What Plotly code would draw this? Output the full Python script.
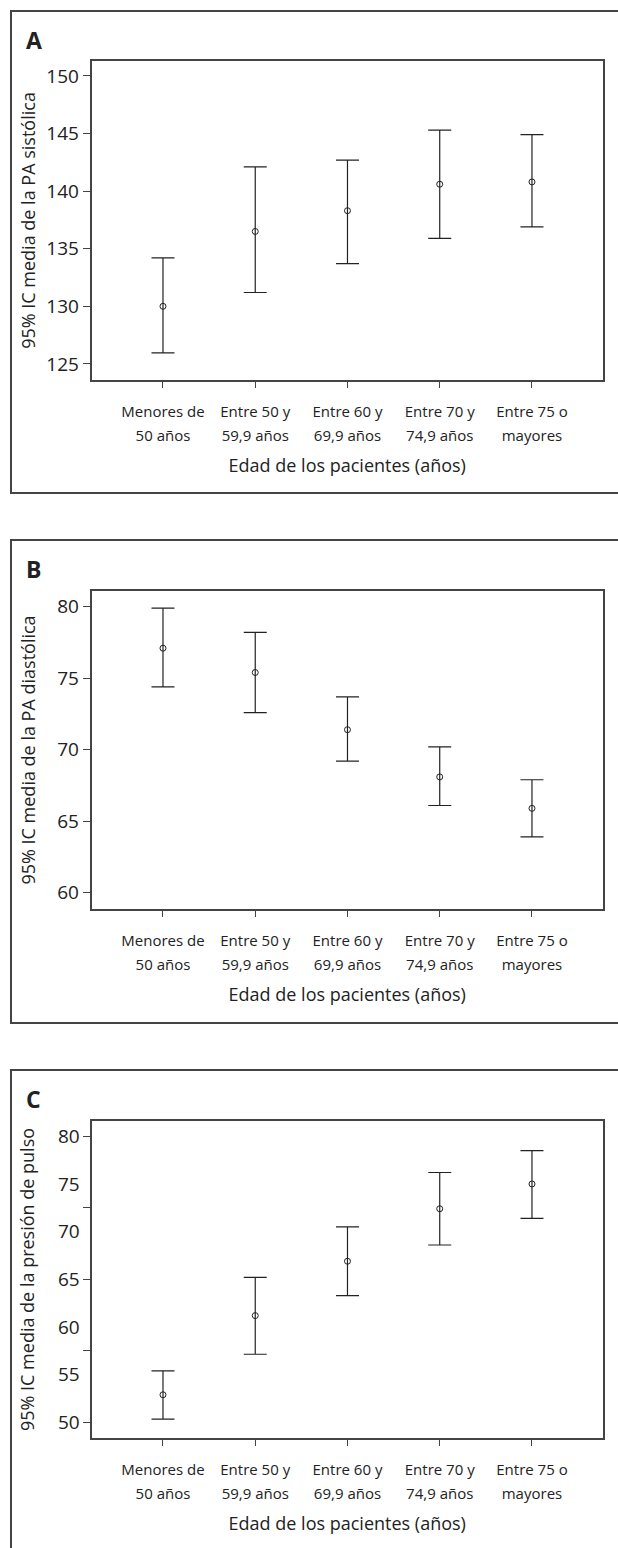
import plotly.graph_objects as go

# ---------------- data ----------------
category_lines = [["Menores de", "50 años"], ["Entre 50 y", "59,9 años"], ["Entre 60 y", "69,9 años"],
                  ["Entre 70 y", "74,9 años"], ["Entre 75 o", "mayores"]]
categories = [" ".join(c) for c in category_lines]

sys_mean = [130.0, 136.5, 138.3, 140.6, 140.8]
sys_upper = [134.2, 142.1, 142.7, 145.3, 144.9]
sys_lower = [125.95, 131.2, 133.7, 135.9, 136.9]

dia_mean = [77.1, 75.4, 71.4, 68.1, 65.9]
dia_upper = [79.9, 78.2, 73.7, 70.2, 67.9]
dia_lower = [74.4, 72.6, 69.2, 66.1, 63.9]

pp_mean = [52.9, 61.2, 66.9, 72.4, 75.0]
pp_upper = [55.4, 65.2, 70.5, 76.2, 78.5]
pp_lower = [50.35, 57.15, 63.3, 68.6, 71.4]

panel_letters = ["A", "B", "C"]
y_titles = ["95% IC media de la PA sistólica",
            "95% IC media de la PA diastólica",
            "95% IC media de la presión de pulso"]
x_title = "Edad de los pacientes (años)"

sys_ticks = [125, 130, 135, 140, 145, 150]
dia_ticks = [60, 65, 70, 75, 80]
pp_labels = [50, 55, 60, 65, 70, 75, 80]
pp_tickmarks = [50, 57.5, 65, 72.5, 80]

# ---------------- layout helpers ----------------
W, H = 618, 1548
FONT = "Open Sans"
INK = "#222222"
FRAME = "#444444"


def py(px):
    return 1 - px / H


def px_(x):
    return x / W


tick_text = ["<br>".join("<span style='font-size:15px'>%s</span>" % s for s in c)
             for c in category_lines]

x_dom = [px_(91.5), px_(603)]
panels = [
    dict(top=61, bottom=380, box=(11, 493)),
    dict(top=591, bottom=909, box=(540, 1023)),
    dict(top=1121, bottom=1438, box=(1070, 1560)),
]

fig = go.Figure()

series = [(sys_mean, sys_upper, sys_lower), (dia_mean, dia_upper, dia_lower),
          (pp_mean, pp_upper, pp_lower)]

for i, (m, u, l) in enumerate(series):
    k = "" if i == 0 else str(i + 1)
    fig.add_trace(go.Scatter(
        x=categories, y=m, mode="markers",
        marker=dict(symbol="circle-open", size=6, color=INK, line=dict(width=1, color=INK)),
        error_y=dict(type="data", symmetric=False,
                     array=[a - b for a, b in zip(u, m)],
                     arrayminus=[b - c for b, c in zip(m, l)],
                     color=INK, thickness=1.2, width=11.5),
        xaxis="x" + k, yaxis="y" + k, showlegend=False, hoverinfo="skip"))

# invisible trace to carry the label-only axis of panel C
fig.add_trace(go.Scatter(x=categories, y=pp_mean, mode="markers",
                         marker=dict(opacity=0), xaxis="x3", yaxis="y4",
                         showlegend=False, hoverinfo="skip"))

ranges = [[123.6, 151.3], [58.86, 81.1], [48.37, 81.6]]
standoffs = [6, 17, 43]

axis_common = dict(showline=True, linecolor=FRAME, linewidth=1.5, mirror=True,
                   showgrid=False, zeroline=False, ticks="outside", ticklen=7,
                   tickwidth=1.2, tickcolor=FRAME,
                   tickfont=dict(family=FONT, size=19, color=INK))

for i, p in enumerate(panels):
    k = "" if i == 0 else str(i + 1)
    ydom = [py(p["bottom"]), py(p["top"])]
    fig.layout["xaxis" + k] = dict(
        domain=x_dom, anchor="y" + k, type="category", range=[-0.775, 4.77],
        tickvals=categories, ticktext=tick_text,
        showline=True, linecolor=FRAME, linewidth=1.5, mirror=True,
        showgrid=False, zeroline=False, ticks="outside", ticklen=6, tickwidth=1.2,
        tickcolor=FRAME, ticklabelstandoff=8,
        tickfont=dict(family=FONT, size=18, color=INK),
        title=dict(text=x_title, font=dict(family=FONT, size=18, color=INK), standoff=16))
    yax = dict(axis_common)
    yax.update(domain=ydom, anchor="x" + k, range=ranges[i],
               title=dict(text=y_titles[i], font=dict(family=FONT, size=18, color=INK),
                          standoff=standoffs[i]))
    if i == 0:
        yax.update(tickvals=sys_ticks)
    elif i == 1:
        yax.update(tickvals=dia_ticks)
    else:
        yax.update(tickvals=pp_tickmarks, showticklabels=False)
    fig.layout["yaxis" + k] = yax

    # outer panel box
    fig.add_shape(type="rect", xref="paper", yref="paper",
                  x0=px_(11), x1=1.05, y0=py(p["box"][1]), y1=py(p["box"][0]),
                  line=dict(color=FRAME, width=2), fillcolor="rgba(0,0,0,0)", layer="below")
    fig.add_annotation(text="<b>" + panel_letters[i] + "</b>", xref="paper", yref="paper",
                       x=px_(24), y=py(p["box"][0] + 29), xanchor="left", yanchor="middle",
                       showarrow=False, font=dict(family=FONT, size=23, color=INK))

# label-only axis for panel C
fig.layout["yaxis4"] = dict(
    overlaying="y3", anchor="x3", side="left", range=ranges[2], tickvals=pp_labels,
    showline=False, showgrid=False, zeroline=False, ticks="outside", ticklen=7,
    tickcolor="rgba(0,0,0,0)", tickfont=dict(family=FONT, size=19, color=INK))

fig.update_layout(width=W, height=H, margin=dict(l=0, r=0, t=0, b=0),
                  paper_bgcolor="white", plot_bgcolor="white",
                  font=dict(family=FONT, color=INK))

fig.write_html("out.html", config={"displayModeBar": False},
               post_script="document.body.style.margin='0';document.body.style.padding='0';")
